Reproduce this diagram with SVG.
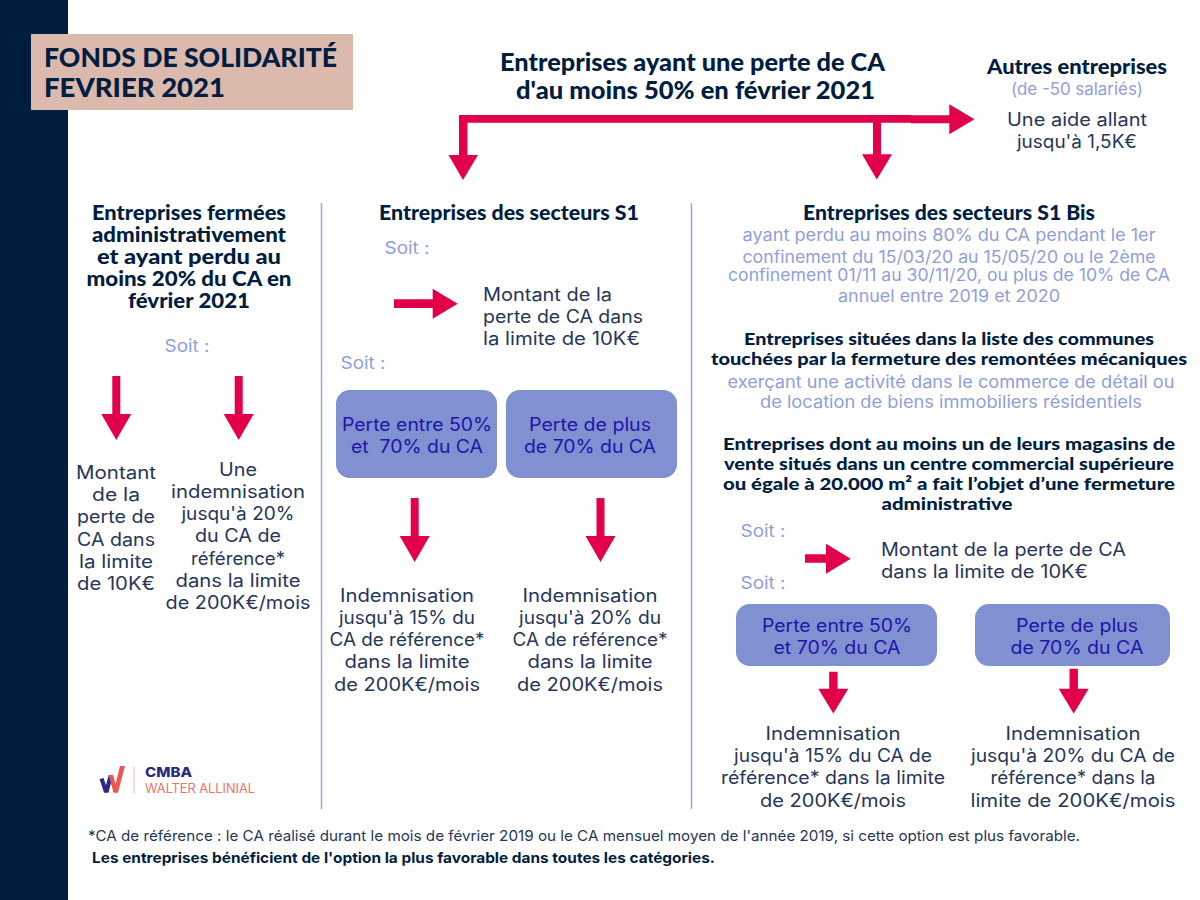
<svg xmlns="http://www.w3.org/2000/svg" width="1200" height="900" viewBox="0 0 1200 900">
<style>
text{font-family:"Inter","Liberation Sans",sans-serif;text-anchor:middle}
.h{font-family:"Lato","Liberation Sans",sans-serif;font-weight:900;fill:#011e41}
.b{font-size:18px;fill:#26365a}
.s{font-size:17px;fill:#8f9edb}
.p{font-size:18px;fill:#1f15a8}
.l{text-anchor:start}
.box{fill:#8090d0}
.div{stroke:#9aa7dc;stroke-width:1.500;fill:none}
.ar{fill:#e2004b}
</style>
<defs>
<polygon id="down" class="ar" points="-4,0 4,0 4,38 15,38 0,64 -15,38 -4,38"/>
</defs>
<rect width="1200" height="900" fill="#fff"/>
<rect x="0" y="0" width="68" height="900" fill="#011e41"/>
<g id="title">
<rect x="31" y="34" width="322" height="76" fill="#dbb9ad"/>
<text class="h" x="190.500" y="67" font-size="27" textLength="293" lengthAdjust="spacingAndGlyphs">FONDS DE SOLIDARITÉ</text>
<text class="h" x="134.500" y="97" font-size="27" textLength="181" lengthAdjust="spacingAndGlyphs">FEVRIER 2021</text>
</g>
<g id="connectors">
<polygon class="ar" points="459,115 911,115 911,115.300 949.300,115.300 949.300,104.300 974.500,119.300 949.300,134.300 949.300,123.300 911,123.300 911,122.700 881,122.700 881,154.300 892,154.300 876.800,179.500 862,154.300 873,154.300 873,122.700 467.500,122.700 467.500,155 478,155 463,180 448.500,155 459,155"/>
<use href="#down" x="116.300" y="376"/>
<use href="#down" x="238.700" y="376"/>
<polygon class="ar" points="394,299.300 432.700,299.300 432.700,288.700 457.700,303.700 432.700,318.700 432.700,308 394,308"/>
<use href="#down" x="414.700" y="498"/>
<use href="#down" x="600.500" y="498"/>
<polygon class="ar" points="805,554.300 826,554.300 826,543.700 850.700,558.700 826,573.700 826,562.700 805,562.700"/>
<polygon class="ar" points="829.200,671.700 837.600,671.700 837.600,688.700 848.300,688.700 833.300,713.500 818.300,688.700 829.200,688.700"/>
<polygon class="ar" points="1069.500,668.700 1077.900,668.700 1077.900,688.700 1088.700,688.700 1073.700,713.500 1058.700,688.700 1069.500,688.700"/>
<line class="div" x1="321.500" y1="203" x2="321.500" y2="809"/>
<line class="div" x1="691.500" y1="203" x2="691.500" y2="809"/>
</g>
<g id="top">
<text class="h" x="692.500" y="71" font-size="24" textLength="385" lengthAdjust="spacingAndGlyphs">Entreprises ayant une perte de CA</text>
<text class="h" x="695.500" y="99" font-size="24" textLength="359" lengthAdjust="spacingAndGlyphs">d'au moins 50% en février 2021</text>
</g>
<g id="autres">
<text class="h" x="1077" y="74" font-size="20" textLength="180" lengthAdjust="spacingAndGlyphs">Autres entreprises</text>
<text class="s" x="1077" y="95" textLength="132" lengthAdjust="spacingAndGlyphs">(de -50 salariés)</text>
<text class="b" x="1077" y="126" textLength="140" lengthAdjust="spacingAndGlyphs">Une aide allant</text>
<text class="b" x="1077" y="148" textLength="120" lengthAdjust="spacingAndGlyphs">jusqu'à 1,5K€</text>
</g>
<g id="col1">
<text class="h" x="189" y="220" font-size="20" textLength="194" lengthAdjust="spacingAndGlyphs">Entreprises fermées</text>
<text class="h" x="189" y="242" font-size="20" textLength="194" lengthAdjust="spacingAndGlyphs">administrativement</text>
<text class="h" x="189" y="264" font-size="20" textLength="184" lengthAdjust="spacingAndGlyphs">et ayant perdu au</text>
<text class="h" x="189" y="286" font-size="20" textLength="205" lengthAdjust="spacingAndGlyphs">moins 20% du CA en</text>
<text class="h" x="189" y="308" font-size="20" textLength="122" lengthAdjust="spacingAndGlyphs">février 2021</text>
<text class="s" x="187" y="352" textLength="45" lengthAdjust="spacingAndGlyphs">Soit :</text>
<text class="b" x="116" y="479" textLength="80" lengthAdjust="spacingAndGlyphs">Montant</text>
<text class="b" x="116" y="501" textLength="48" lengthAdjust="spacingAndGlyphs">de la</text>
<text class="b" x="116" y="523" textLength="78" lengthAdjust="spacingAndGlyphs">perte de</text>
<text class="b" x="116" y="546" textLength="78" lengthAdjust="spacingAndGlyphs">CA dans</text>
<text class="b" x="116" y="568" textLength="74" lengthAdjust="spacingAndGlyphs">la limite</text>
<text class="b" x="116" y="590" textLength="78" lengthAdjust="spacingAndGlyphs">de 10K€</text>
<text class="b" x="238" y="476" textLength="38" lengthAdjust="spacingAndGlyphs">Une</text>
<text class="b" x="238" y="498" textLength="134" lengthAdjust="spacingAndGlyphs">indemnisation</text>
<text class="b" x="238" y="520" textLength="113" lengthAdjust="spacingAndGlyphs">jusqu'à 20%</text>
<text class="b" x="238" y="542" textLength="86" lengthAdjust="spacingAndGlyphs">du CA de</text>
<text class="b" x="238" y="565" textLength="94" lengthAdjust="spacingAndGlyphs">référence*</text>
<text class="b" x="238" y="587" textLength="125" lengthAdjust="spacingAndGlyphs">dans la limite</text>
<text class="b" x="238" y="609" textLength="145" lengthAdjust="spacingAndGlyphs">de 200K€/mois</text>
</g>
<g id="col2">
<text class="h" x="509" y="220" font-size="20" textLength="260" lengthAdjust="spacingAndGlyphs">Entreprises des secteurs S1</text>
<text class="s" x="407" y="254" textLength="45" lengthAdjust="spacingAndGlyphs">Soit :</text>
<text class="b l" x="483" y="301" textLength="129" lengthAdjust="spacingAndGlyphs">Montant de la</text>
<text class="b l" x="483" y="323" textLength="160" lengthAdjust="spacingAndGlyphs">perte de CA dans</text>
<text class="b l" x="483" y="345" textLength="157" lengthAdjust="spacingAndGlyphs">la limite de 10K€</text>
<text class="s" x="363" y="369" textLength="45" lengthAdjust="spacingAndGlyphs">Soit :</text>
</g>
<g id="s1-box1">
<rect class="box" x="336" y="390" width="161" height="88" rx="14"/>
<text class="p" x="417" y="431" textLength="150" lengthAdjust="spacingAndGlyphs">Perte entre 50%</text>
<text class="p" x="417" y="453" textLength="132" lengthAdjust="spacingAndGlyphs" xml:space="preserve">et  70% du CA</text>
</g>
<g id="s1-box2">
<rect class="box" x="506" y="390" width="171" height="88" rx="14"/>
<text class="p" x="590" y="431" textLength="122" lengthAdjust="spacingAndGlyphs">Perte de plus</text>
<text class="p" x="590" y="453" textLength="132" lengthAdjust="spacingAndGlyphs">de 70% du CA</text>
</g>
<g id="s1-res1">
<text class="b" x="407" y="602" textLength="134" lengthAdjust="spacingAndGlyphs">Indemnisation</text>
<text class="b" x="407" y="624" textLength="136" lengthAdjust="spacingAndGlyphs">jusqu'à 15% du</text>
<text class="b" x="407" y="646" textLength="155" lengthAdjust="spacingAndGlyphs">CA de référence*</text>
<text class="b" x="407" y="668" textLength="125" lengthAdjust="spacingAndGlyphs">dans la limite</text>
<text class="b" x="407" y="691" textLength="146" lengthAdjust="spacingAndGlyphs">de 200K€/mois</text>
</g>
<g id="s1-res2">
<text class="b" x="590" y="602" textLength="135" lengthAdjust="spacingAndGlyphs">Indemnisation</text>
<text class="b" x="590" y="624" textLength="142" lengthAdjust="spacingAndGlyphs">jusqu'à 20% du</text>
<text class="b" x="590" y="646" textLength="155" lengthAdjust="spacingAndGlyphs">CA de référence*</text>
<text class="b" x="590" y="668" textLength="125" lengthAdjust="spacingAndGlyphs">dans la limite</text>
<text class="b" x="590" y="691" textLength="146" lengthAdjust="spacingAndGlyphs">de 200K€/mois</text>
</g>
<g id="col3a">
<text class="h" x="949" y="220" font-size="20" textLength="292" lengthAdjust="spacingAndGlyphs">Entreprises des secteurs S1 Bis</text>
<text class="s" x="949" y="241" textLength="413" lengthAdjust="spacingAndGlyphs">ayant perdu au moins 80% du CA pendant le 1er</text>
<text class="s" x="949" y="263" textLength="413" lengthAdjust="spacingAndGlyphs">confinement du 15/03/20 au 15/05/20 ou le 2ème</text>
<text class="s" x="949" y="281" textLength="442" lengthAdjust="spacingAndGlyphs">confinement 01/11 au 30/11/20, ou plus de 10% de CA</text>
<text class="s" x="949" y="302" textLength="222" lengthAdjust="spacingAndGlyphs">annuel entre 2019 et 2020</text>
</g>
<g id="col3b">
<text class="h" x="949" y="345" font-size="17.500" textLength="410" lengthAdjust="spacingAndGlyphs">Entreprises situées dans la liste des communes</text>
<text class="h" x="949" y="365" font-size="17.500" textLength="476" lengthAdjust="spacingAndGlyphs">touchées par la fermeture des remontées mécaniques</text>
<text class="s" x="951" y="388" textLength="447" lengthAdjust="spacingAndGlyphs">exerçant une activité dans le commerce de détail ou</text>
<text class="s" x="951" y="408" textLength="382" lengthAdjust="spacingAndGlyphs">de location de biens immobiliers résidentiels</text>
</g>
<g id="col3c">
<text class="h" x="949" y="450" font-size="17.500" textLength="452" lengthAdjust="spacingAndGlyphs">Entreprises dont au moins un de leurs magasins de</text>
<text class="h" x="949" y="470" font-size="17.500" textLength="450" lengthAdjust="spacingAndGlyphs">vente situés dans un centre commercial supérieure</text>
<text class="h" x="949" y="490" font-size="17.500" textLength="452" lengthAdjust="spacingAndGlyphs">ou égale à 20.000 m² a fait l’objet d’une fermeture</text>
<text class="h" x="947" y="510" font-size="17.500" textLength="131" lengthAdjust="spacingAndGlyphs">administrative</text>
<text class="s" x="763" y="537" textLength="45" lengthAdjust="spacingAndGlyphs">Soit :</text>
<text class="b l" x="881" y="556" textLength="245" lengthAdjust="spacingAndGlyphs">Montant de la perte de CA</text>
<text class="b l" x="881" y="578" textLength="207" lengthAdjust="spacingAndGlyphs">dans la limite de 10K€</text>
<text class="s" x="763" y="589" textLength="45" lengthAdjust="spacingAndGlyphs">Soit :</text>
</g>
<g id="s1b-box1">
<rect class="box" x="736" y="604" width="201" height="62" rx="14"/>
<text class="p" x="837" y="632" textLength="150" lengthAdjust="spacingAndGlyphs">Perte entre 50%</text>
<text class="p" x="837" y="654" textLength="127" lengthAdjust="spacingAndGlyphs">et 70% du CA</text>
</g>
<g id="s1b-box2">
<rect class="box" x="975" y="604" width="195" height="62" rx="14"/>
<text class="p" x="1077" y="632" textLength="122" lengthAdjust="spacingAndGlyphs">Perte de plus</text>
<text class="p" x="1077" y="654" textLength="133" lengthAdjust="spacingAndGlyphs">de 70% du CA</text>
</g>
<g id="s1b-res1">
<text class="b" x="833" y="740" textLength="135" lengthAdjust="spacingAndGlyphs">Indemnisation</text>
<text class="b" x="833" y="762" textLength="198" lengthAdjust="spacingAndGlyphs">jusqu'à 15% du CA de</text>
<text class="b" x="833" y="784" textLength="224" lengthAdjust="spacingAndGlyphs">référence* dans la limite</text>
<text class="b" x="833" y="807" textLength="146" lengthAdjust="spacingAndGlyphs">de 200K€/mois</text>
</g>
<g id="s1b-res2">
<text class="b" x="1073" y="740" textLength="135" lengthAdjust="spacingAndGlyphs">Indemnisation</text>
<text class="b" x="1073" y="762" textLength="204" lengthAdjust="spacingAndGlyphs">jusqu'à 20% du CA de</text>
<text class="b" x="1073" y="784" textLength="165" lengthAdjust="spacingAndGlyphs">référence* dans la</text>
<text class="b" x="1073" y="807" textLength="205" lengthAdjust="spacingAndGlyphs">limite de 200K€/mois</text>
</g>
<g id="logo">
<polygon points="99.500,779 103.500,778 108.500,792.500 104,792.500" fill="#2a2a86"/>
<polygon points="104,792.500 108.500,792.500 113,775 108.700,775" fill="#2a2a86"/>
<polygon points="108.700,775 113,775 118,792.500 113.500,792.500" fill="#e8584f"/>
<polygon points="113.500,792.500 118,792.500 125,766 120,766" fill="#e8584f"/>
<line x1="134" y1="767" x2="134" y2="793" stroke="#f2b5ab" stroke-width="1"/>
<text class="l" x="145" y="777" font-size="13.500" font-weight="800" fill="#2a2a86" textLength="47" lengthAdjust="spacingAndGlyphs">CMBA</text>
<text class="l" x="145" y="793" font-size="12.500" fill="#ee7467" textLength="110" lengthAdjust="spacingAndGlyphs">WALTER ALLINIAL</text>
</g>
<g id="notes">
<text class="l" x="88" y="841" font-size="14.500" fill="#26365a" textLength="992" lengthAdjust="spacingAndGlyphs">*CA de référence : le CA réalisé durant le mois de février 2019 ou le CA mensuel moyen de l'année 2019, si cette option est plus favorable.</text>
<text class="l" x="92" y="863" font-size="14.500" font-weight="700" fill="#011e41" textLength="623" lengthAdjust="spacingAndGlyphs">Les entreprises bénéficient de l'option la plus favorable dans toutes les catégories.</text>
</g>
</svg>
